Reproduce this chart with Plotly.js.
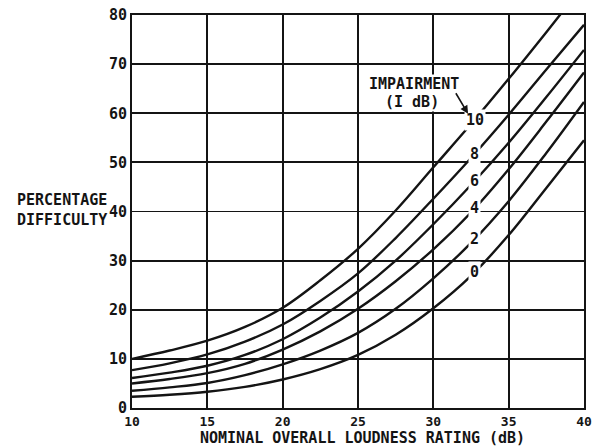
<!DOCTYPE html>
<html>
<head>
<meta charset="utf-8">
<script src="https://cdn.plot.ly/plotly-3.0.1.min.js"></script>
<style>
  html, body { margin: 0; padding: 0; background: #fff; }
  #chart { width: 601px; height: 447px; }
</style>
</head>
<body>
<div id="chart"></div>
<script>
// Nominal overall loudness rating (dB)
const loudness = [10, 12.5, 15, 17.5, 20, 22.5, 25, 27.5, 30, 32.5, 35, 37.5, 40];
// Percentage difficulty for each impairment (I dB)
const impairment10 = [10, 11.7, 13.7, 16.5, 20.4, 26.0, 32.4, 40.2, 49.0, 57.8, 67.0, 76.5, 86.2];
const impairment8  = [7.7, 9.1, 10.9, 13.5, 17.0, 21.8, 27.4, 34.6, 42.6, 50.9, 59.7, 68.9, 78.0];
const impairment6  = [6.1, 7.2, 8.6, 10.8, 14.0, 18.4, 23.7, 30.0, 37.4, 45.4, 54.0, 63.3, 72.9];
const impairment4  = [5.0, 5.9, 7.1, 9.0, 11.9, 15.6, 20.2, 25.8, 32.3, 39.8, 48.6, 58.3, 68.3];
const impairment2  = [3.5, 4.2, 5.1, 6.7, 8.9, 11.7, 15.3, 20.2, 26.4, 33.6, 42.1, 51.9, 62.3];
const impairment0  = [2.3, 2.7, 3.3, 4.3, 5.8, 7.9, 10.8, 14.9, 20.3, 26.9, 35.2, 44.8, 54.5];
const curveLabels = ['10', '8', '6', '4', '2', '0'];
const xTicks = [10, 15, 20, 25, 30, 35, 40];
const yTicks = [0, 10, 20, 30, 40, 50, 60, 70, 80];

const series = [impairment10, impairment8, impairment6, impairment4, impairment2, impairment0];
const FONT = 'DejaVu Sans Mono, Liberation Mono, monospace';
const INK = '#141414';

const traces = series.map((ys, i) => ({
  x: loudness, y: ys, type: 'scatter', mode: 'lines',
  line: { color: INK, width: 2.4, shape: 'spline', smoothing: 1 },
  name: curveLabels[i], showlegend: false, hoverinfo: 'skip'
}));

// label position along the curves
const labelX = 32.75;
function valueAt(ys, xv) {
  for (let k = 0; k < loudness.length - 1; k++) {
    if (xv >= loudness[k] && xv <= loudness[k + 1]) {
      const t = (xv - loudness[k]) / (loudness[k + 1] - loudness[k]);
      return ys[k] + t * (ys[k + 1] - ys[k]);
    }
  }
  return ys[ys.length - 1];
}

const annotations = series.map((ys, i) => ({
  x: labelX, y: valueAt(ys, labelX), xref: 'x', yref: 'y',
  text: curveLabels[i], showarrow: false,
  font: { family: FONT, size: 15, color: INK, weight: 700 },
  bgcolor: '#ffffff', borderpad: 1
}));

annotations.push(
  { x: 28.71, y: 66.0, xref: 'x', yref: 'y', text: 'IMPAIRMENT', showarrow: false,
    font: { family: FONT, size: 15, color: INK, weight: 700 }, bgcolor: '#ffffff', borderpad: 0 },
  { x: 28.56, y: 62.3, xref: 'x', yref: 'y', text: '(I dB)', showarrow: false,
    font: { family: FONT, size: 15, color: INK, weight: 700 }, bgcolor: '#ffffff', borderpad: 0 },
  { x: 32.3, y: 59.9, xref: 'x', yref: 'y', text: '', showarrow: true,
    ax: -13, ay: -22, arrowhead: 2, arrowsize: 1, arrowwidth: 1.6, arrowcolor: INK },
  { x: -0.155, y: 0.504, xref: 'paper', yref: 'paper', text: 'PERCENTAGE<br>DIFFICULTY',
    showarrow: false, align: 'center', xanchor: 'center', yanchor: 'middle',
    font: { family: FONT, size: 15, color: INK, weight: 700 } },
  { x: 0.511, y: -0.0751, xref: 'paper', yref: 'paper', text: 'NOMINAL OVERALL LOUDNESS RATING (dB)',
    showarrow: false, xanchor: 'center', yanchor: 'middle',
    font: { family: FONT, size: 15, color: INK, weight: 700 } }
);

const layout = {
  width: 601, height: 447,
  margin: { l: 132, r: 17, t: 15, b: 39 },
  paper_bgcolor: '#ffffff', plot_bgcolor: '#ffffff',
  showlegend: false,
  xaxis: {
    range: [10, 40], tickvals: xTicks, ticktext: xTicks.map(String),
    showgrid: true, gridcolor: INK, gridwidth: 1.8,
    showline: true, linecolor: INK, linewidth: 2, mirror: true,
    zeroline: false, ticks: '', ticklen: 0,
    tickfont: { family: FONT, size: 13, color: INK, weight: 700 }
  },
  yaxis: {
    range: [0, 80], tickvals: yTicks, ticktext: yTicks.map(String),
    showgrid: true, gridcolor: INK, gridwidth: 1.8,
    showline: true, linecolor: INK, linewidth: 2, mirror: true,
    zeroline: false, ticks: '', ticklen: 0,
    tickfont: { family: FONT, size: 15, color: INK, weight: 700 }
  },
  annotations: annotations
};

Plotly.newPlot('chart', traces, layout, { displayModeBar: false, staticPlot: true });
</script>
</body>
</html>
